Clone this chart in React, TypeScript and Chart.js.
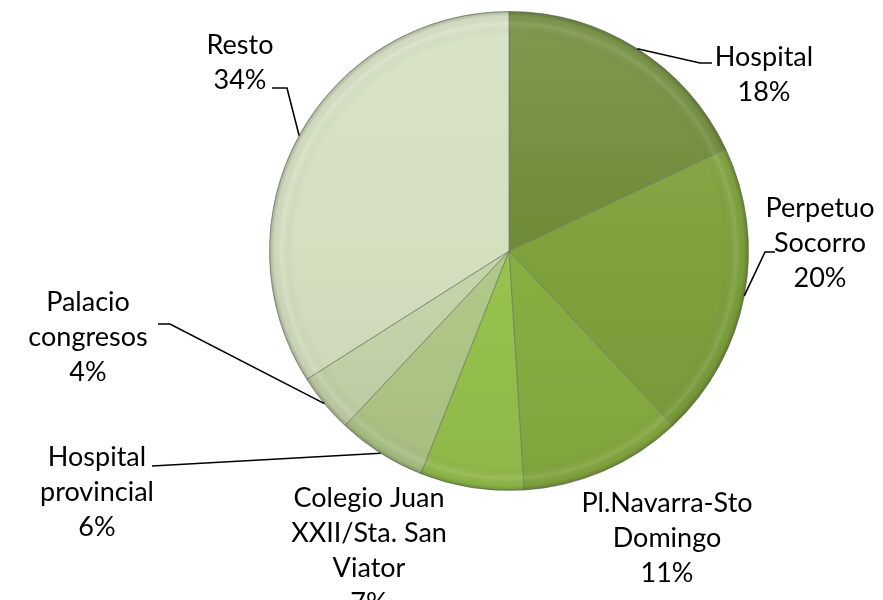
import React, { useEffect, useRef } from 'react';
import { Chart, registerables } from 'chart.js';

Chart.register(...registerables);

const categories = [
  'Hospital',
  'Perpetuo Socorro',
  'Pl.Navarra-Sto Domingo',
  'Colegio Juan XXII/Sta. San Viator',
  'Hospital provincial',
  'Palacio congresos',
  'Resto',
];
const values = [18, 20, 11, 7, 6, 4, 34];
const labelLines = [
  ['Hospital'],
  ['Perpetuo', 'Socorro'],
  ['Pl.Navarra-Sto', 'Domingo'],
  ['Colegio Juan', 'XXII/Sta. San', 'Viator'],
  ['Hospital', 'provincial'],
  ['Palacio', 'congresos'],
  ['Resto'],
];
const colors = ['#6e8b37', '#7ea13c', '#88ae41', '#97c34d', '#b1c988', '#c6d5aa', '#d4dfc0'];

// label layout (text centre x, first line y, leader-line points after the arc point)
const labelLayout = [
  { x: 764, y: 57, pts: [[700, 63], [712, 63]] },
  { x: 820, y: 208, pts: [[765, 252], [775, 252]] },
  { x: 667, y: 503, pts: [] },
  { x: 369, y: 498, pts: [] },
  { x: 97, y: 457, pts: [[152, 466]] },
  { x: 88, y: 302, pts: [[170, 324], [158, 324]] },
  { x: 240, y: 45, pts: [[287, 88], [272, 88]] },
];

function shade(hex: string, f: number): string {
  const n = parseInt(hex.slice(1), 16);
  const r = (n >> 16) & 255, g = (n >> 8) & 255, b = n & 255;
  const adj = (c: number) => Math.max(0, Math.min(255, Math.round(f < 0 ? c * (1 + f) : c + (255 - c) * f)));
  return `rgb(${adj(r)},${adj(g)},${adj(b)})`;
}

const bevelPlugin = {
  id: 'bevel',
  afterDatasetsDraw(chart: any) {
    const meta = chart.getDatasetMeta(0);
    const a = meta.data[0];
    if (!a) return;
    const ctx = chart.ctx;
    const cx = a.x, cy = a.y, r = a.outerRadius;
    ctx.save();
    ctx.beginPath();
    ctx.arc(cx, cy, r, 0, Math.PI * 2);
    ctx.clip();
    const g = ctx.createRadialGradient(cx, cy, 0, cx, cy, r);
    g.addColorStop(0, 'rgba(0,0,0,0)');
    g.addColorStop(0.9, 'rgba(0,0,0,0)');
    g.addColorStop(0.95, 'rgba(255,255,255,0.1)');
    g.addColorStop(0.98, 'rgba(0,0,0,0.03)');
    g.addColorStop(1, 'rgba(0,0,0,0.22)');
    ctx.fillStyle = g;
    ctx.fillRect(cx - r, cy - r, 2 * r, 2 * r);
    ctx.restore();
  },
};

const labelPlugin = {
  id: 'pieLabels',
  afterDraw(chart: any) {
    const ctx = chart.ctx;
    const meta = chart.getDatasetMeta(0);
    ctx.save();
    ctx.font = '27px Lato, "Open Sans", sans-serif';
    ctx.fillStyle = '#000';
    ctx.textAlign = 'center';
    ctx.textBaseline = 'middle';
    meta.data.forEach((arc: any, i: number) => {
      const lay = labelLayout[i];
      const mid = (arc.startAngle + arc.endAngle) / 2;
      const sx = arc.x + Math.cos(mid) * arc.outerRadius;
      const sy = arc.y + Math.sin(mid) * arc.outerRadius;
      if (lay.pts.length) {
        ctx.beginPath();
        ctx.strokeStyle = '#000';
        ctx.lineWidth = 1.6;
        ctx.moveTo(sx, sy);
        lay.pts.forEach((p) => ctx.lineTo(p[0], p[1]));
        ctx.stroke();
      }
      const lines = [...labelLines[i], values[i] + '%'];
      lines.forEach((t, k) => ctx.fillText(t, lay.x, lay.y + k * 35));
    });
    ctx.restore();
  },
};

export default function App() {
  const ref = useRef<HTMLCanvasElement>(null);
  useEffect(() => {
    if (!ref.current) return;
    const chart = new Chart(ref.current, {
      type: 'pie',
      data: {
        labels: categories,
        datasets: [
          {
            data: values,
            backgroundColor: (c: any) => {
              const col = colors[c.dataIndex];
              const area = c.chart.chartArea;
              if (!area) return col;
              const g = c.chart.ctx.createLinearGradient(0, area.top, 0, area.bottom);
              g.addColorStop(0, shade(col, 0.12));
              g.addColorStop(0.5, col);
              g.addColorStop(1, shade(col, -0.06));
              return g;
            },
            borderColor: 'rgba(110,120,100,0.7)',
            borderWidth: 1,
          },
        ],
      },
      options: {
        responsive: false,
        animation: false,
        layout: { padding: { top: 11, bottom: 109, left: 269, right: 134 } },
        plugins: { legend: { display: false }, tooltip: { enabled: false } },
      },
      plugins: [bevelPlugin, labelPlugin],
    });
    return () => chart.destroy();
  }, []);
  return (
    <div style={{ position: 'fixed', left: 0, top: 0, width: 883, height: 600, background: '#fff' }}>
      <canvas ref={ref} width={883} height={600} />
    </div>
  );
}
